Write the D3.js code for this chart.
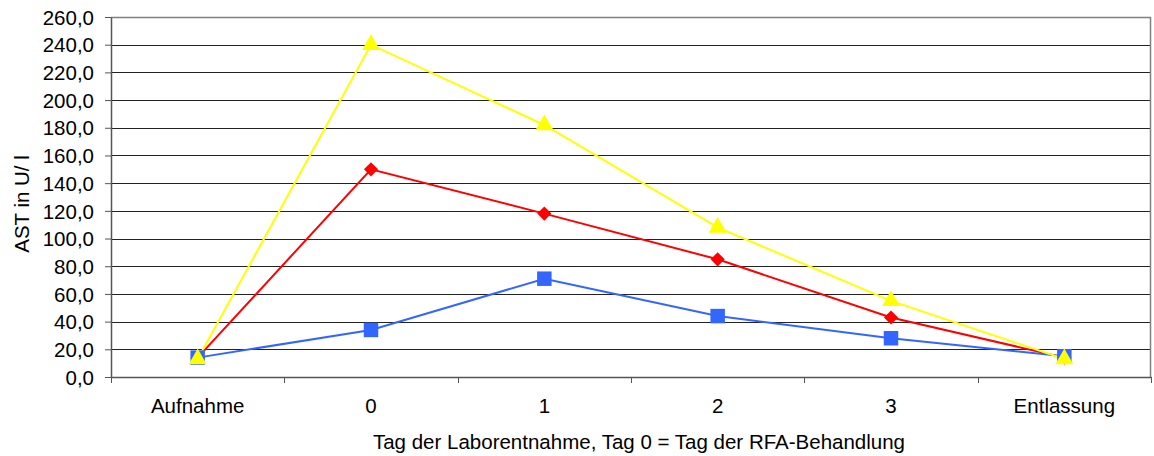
<!DOCTYPE html>
<html>
<head>
<meta charset="utf-8">
<script src="https://cdn.jsdelivr.net/npm/d3@7"></script>
<style>
  body { margin: 0; background: #fff; }
  text { font-family: "Liberation Sans", Arial, sans-serif; fill: #000; }
</style>
</head>
<body>
<div id="chart"></div>
<script>
const categories = ['Aufnahme', '0', '1', '2', '3', 'Entlassung'];
const yTicks = [0, 20, 40, 60, 80, 100, 120, 140, 160, 180, 200, 220, 240, 260];
const redValues = [14, 150, 118, 85, 43, 14];
const blueValues = [14, 34, 71, 44, 28, 15];
const yellowValues = [13, 240, 182, 108, 55, 13];

const W = 1154, H = 456;
const FONT = '20.5px';
const margin = {top: 17, right: 3, bottom: 79, left: 111};
const width = W - margin.left - margin.right;
const height = H - margin.top - margin.bottom;

const svg = d3.select('#chart')
  .append('svg')
  .attr('width', W)
  .attr('height', H)
  .append('g')
  .attr('transform', 'translate(' + margin.left + ',' + margin.top + ')');

const x = d3.scaleBand()
  .domain(categories)
  .range([0, width]);

const y = d3.scaleLinear()
  .domain([0, 260])
  .range([height, 0]);

// grid lines
svg.append('g')
  .selectAll('line')
  .data(yTicks.filter(t => t > 0 && t < 260))
  .enter().append('line')
  .attr('x1', 0)
  .attr('x2', width)
  .attr('y1', d => Math.round(y(d)) + 0.5)
  .attr('y2', d => Math.round(y(d)) + 0.5)
  .attr('stroke', '#222')
  .attr('stroke-width', 1);

// frame top and right
svg.append('path')
  .attr('d', 'M0,' + (Math.round(y(260)) + 0.5) + 'H' + (width - 0.5) + 'V' + height)
  .attr('fill', 'none')
  .attr('stroke', '#808080')
  .attr('stroke-width', 1.5);

// y axis
const yAxis = svg.append('g')
  .attr('class', 'y-axis')
  .call(d3.axisLeft(y).tickValues(yTicks).tickSize(6).tickSizeOuter(0)
    .tickFormat(d => d3.format('.1f')(d).replace('.', ',')));
yAxis.select('.domain').attr('stroke', '#555').attr('stroke-width', 1.5);
yAxis.selectAll('.tick line').attr('stroke', '#555');
yAxis.selectAll('text')
  .style('font-family', '"Liberation Sans", Arial, sans-serif')
  .style('font-size', FONT)
  .attr('x', -17)
  .attr('dy', '0.35em');

// x axis
const xAxis = svg.append('g')
  .attr('class', 'x-axis')
  .attr('transform', 'translate(0,' + height + ')')
  .call(d3.axisBottom(x).tickSize(0).tickSizeOuter(0));
xAxis.select('.domain').attr('stroke', '#555').attr('stroke-width', 1.5);
xAxis.selectAll('.tick text')
  .style('font-family', '"Liberation Sans", Arial, sans-serif')
  .style('font-size', FONT)
  .attr('y', 29)
  .attr('dy', '0.35em');

// category boundary ticks
xAxis.selectAll('.bound')
  .data(categories.map((c, i) => i).concat([categories.length]))
  .enter().append('line')
  .attr('x1', i => Math.round(i * x.step()) + 0.5)
  .attr('x2', i => Math.round(i * x.step()) + 0.5)
  .attr('y1', 0)
  .attr('y2', 6)
  .attr('stroke', '#555')
  .attr('stroke-width', 1);

const cx = (d, i) => x(categories[i]) + x.bandwidth() / 2;

const series = [
  {values: redValues, color: '#FF0000', size: 100, rot: 45, type: d3.symbolSquare},
  {values: blueValues, color: '#3366FF', size: 210, type: d3.symbolSquare},
  {values: yellowValues, color: '#FFFF00', size: 140, type: d3.symbolTriangle}
];

series.forEach(s => {
  const line = d3.line().x(cx).y(d => y(d));
  svg.append('path')
    .datum(s.values)
    .attr('fill', 'none')
    .attr('stroke', s.color)
    .attr('stroke-width', 2)
    .attr('d', line);
});

series.forEach(s => {
  const sym = d3.symbol().type(s.type).size(s.size);
  svg.append('g')
    .selectAll('path')
    .data(s.values)
    .enter().append('path')
    .attr('d', sym)
    .attr('transform', (d, i) => 'translate(' + cx(d, i) + ',' + y(d) + ')' + (s.rot ? ' rotate(' + s.rot + ')' : ''))
    .attr('fill', s.color);
});

// axis titles
svg.append('text')
  .attr('transform', 'translate(' + (22 - margin.left) + ',' + (204 - margin.top) + ') rotate(-90)')
  .attr('text-anchor', 'middle')
  .attr('dy', '0.35em')
  .style('font-size', FONT)
  .text('AST in U/ l');

svg.append('text')
  .attr('x', 639 - margin.left)
  .attr('y', 442 - margin.top)
  .attr('text-anchor', 'middle')
  .attr('dy', '0.35em')
  .style('font-size', FONT)
  .text('Tag der Laborentnahme, Tag 0 = Tag der RFA-Behandlung');
</script>
</body>
</html>
